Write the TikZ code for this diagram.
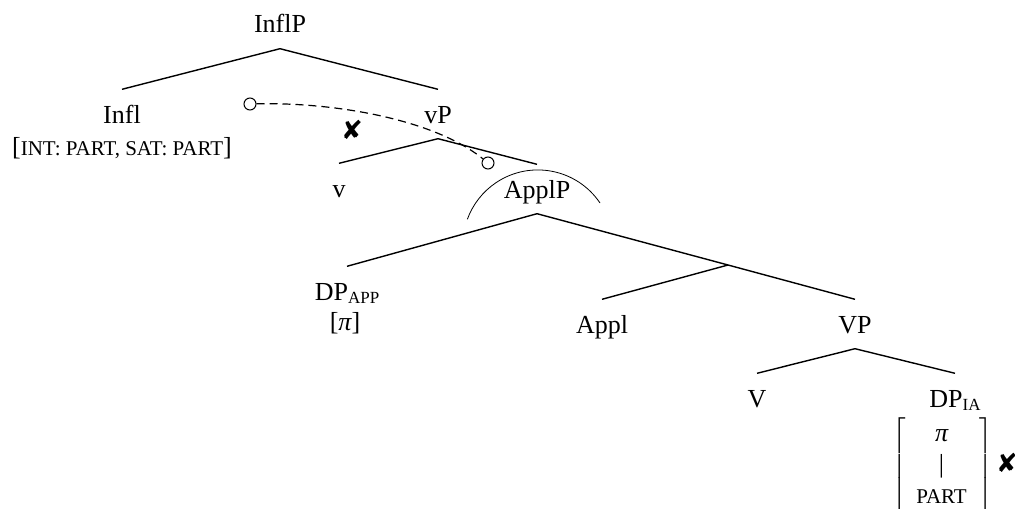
\documentclass[tikz,border=0pt]{standalone}
\usepackage{fontspec}
\setmainfont{Liberation Serif}
\newfontfamily\marksfont{DejaVu Sans}
\newcommand{\feat}[1]{{\fontsize{10.5}{12}\selectfont #1}}
\newcommand{\subfeat}[1]{\raisebox{-1.7pt}{\fontsize{8.5}{10}\selectfont #1}}

\begin{document}
\begin{tikzpicture}[x=0.5pt,y=-0.5pt,line width=0.7pt,font=\fontsize{13}{15.5}\selectfont,
  lab/.style={anchor=base,inner xsep=1pt,inner ysep=4pt,text height=12.5pt,text depth=3.5pt},
  dot/.style={circle,draw,fill=white,line width=0.5pt,inner sep=0pt,minimum size=6pt}]
\useasboundingbox (0,0) rectangle (1015,508);
\node[lab] (inflP) at (280,33) {InflP};
\node[lab] (infl) at (122,123) {Infl};
\node[anchor=base] (inflfeat) at (122,155) {[\feat{INT: PART, SAT: PART}]};
\node[lab] (vP) at (438,123) {vP};
\node[lab] (v) at (339,197) {v};
\node[lab] (applP) at (537,198) {ApplP};
\node[lab] (dpapp) at (347,300) {DP\subfeat{APP}};
\node[anchor=base] (dpappfeat) at (345,330) {[{\itshape π}]};
\coordinate (applbar) at (728,265);
\node[lab] (appl) at (602,333) {Appl};
\node[lab] (VP) at (855,333) {VP};
\node[lab] (V) at (757,407) {V};
\node[lab] (dpia) at (955,407) {DP\subfeat{IA}};
\node[inner sep=0pt] (iafeat) at (943,466) {$\left[\rule[-23pt]{0pt}{52pt}\begin{tabular}{@{\hspace{5pt}}c@{\hspace{6.5pt}}}{\itshape π}\\|\\\feat{PART}\end{tabular}\right]$};
\node[inner sep=0pt] (xmark1) at (352,130) {\marksfont ✘};
\node[inner sep=0pt] (xmark2) at (1007,463) {\marksfont ✘};
\draw (inflP.south) -- (infl.north);
\draw (inflP.south) -- (vP.north);
\draw (vP.south) -- (v.north);
\draw (vP.south) -- (applP.north);
\draw (applP.south) -- (dpapp.north);
\draw (applP.south) -- (applbar) -- (VP.north);
\draw (applbar) -- (appl.north);
\draw (VP.south) -- (V.north);
\draw (VP.south) -- (dpia.north);
\draw[line width=0.4pt] (600,203) arc[start angle=-34,end angle=-160,radius=75];
\node[dot] (src) at (250,104) {};
\node[dot] (tgt) at (488,163) {};
\draw[line width=0.6pt,dash pattern=on 4pt off 2.5pt] (src) .. controls +(83,-2) and +(-54,-44) .. (tgt);
\end{tikzpicture}
\end{document}
